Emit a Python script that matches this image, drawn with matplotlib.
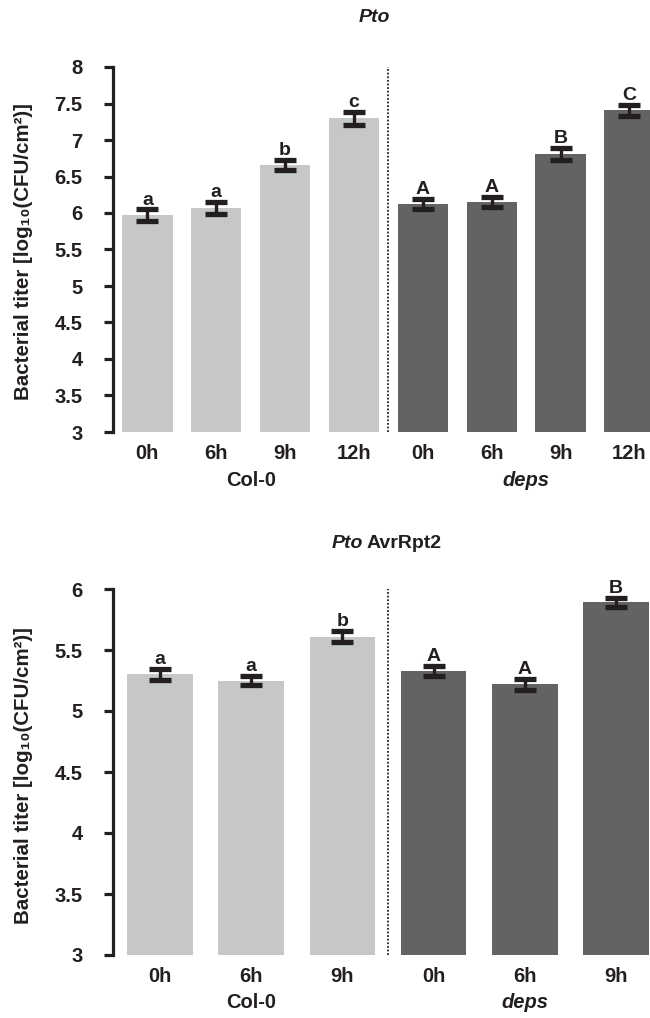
import matplotlib
matplotlib.use("Agg")
import matplotlib.pyplot as plt
import numpy as np

plt.rcParams['font.family'] = ['Liberation Sans', 'DejaVu Sans']
plt.rcParams['font.weight'] = 'bold'

# ---------------- data ----------------
top_times = ["0h", "6h", "9h", "12h", "0h", "6h", "9h", "12h"]
top_values = [5.97, 6.07, 6.66, 7.30, 6.12, 6.15, 6.81, 7.41]
top_errors = [0.08, 0.085, 0.07, 0.09, 0.07, 0.07, 0.085, 0.075]
top_letters = ["a", "a", "b", "c", "A", "A", "B", "C"]
top_groups = ["Col-0", "Col-0", "Col-0", "Col-0", "deps", "deps", "deps", "deps"]

bot_times = ["0h", "6h", "9h", "0h", "6h", "9h"]
bot_values = [5.30, 5.25, 5.61, 5.33, 5.22, 5.89]
bot_errors = [0.045, 0.04, 0.045, 0.04, 0.045, 0.04]
bot_letters = ["a", "a", "b", "A", "A", "B"]
bot_groups = ["Col-0", "Col-0", "Col-0", "deps", "deps", "deps"]

group_colors = {"Col-0": "#c6c7c9", "deps": "#636365"}
ink = "#231f20"

W, H = 650, 1018
fig = plt.figure(figsize=(W / 100, H / 100), dpi=100)


def fx(px):
    return px / W


def fy(py):
    return 1 - py / H


def panel(rect, times, values, errors, letters, groups, ylim, yticks,
          xlim, width, sep, group_label_y):
    ax = fig.add_axes(rect)
    x = np.arange(len(values))
    colors = [group_colors[g] for g in groups]
    ax.bar(x, np.array(values) - ylim[0], bottom=ylim[0], width=width,
           color=colors, edgecolor='none', zorder=2)
    ax.errorbar(x, values, yerr=errors, fmt='none', ecolor=ink,
                elinewidth=2.4, capsize=7.9, capthick=3.8, zorder=3)
    for xi, v, e, l in zip(x, values, errors, letters):
        ax.annotate(l, (xi, v + e), xytext=(0, 0.5), textcoords='offset points',
                    ha='center', va='bottom', fontsize=14, fontweight='bold',
                    color=ink)
    ax.axvline(sep, color=ink, linestyle=(0, (1, 1)), linewidth=1.3, zorder=1)
    ax.set_ylim(*ylim)
    ax.set_xlim(*xlim)
    ax.set_yticks(yticks)
    ax.set_yticklabels([('%g' % t) for t in yticks])
    ax.set_xticks(x)
    ax.set_xticklabels(times)
    for s in ['top', 'right', 'bottom']:
        ax.spines[s].set_visible(False)
    ax.spines['left'].set_linewidth(2.3)
    ax.spines['left'].set_color(ink)
    ax.tick_params(axis='y', length=6.5, width=2.3, color=ink, pad=15.5,
                   labelsize=14.5, labelcolor=ink)
    ax.tick_params(axis='x', length=0, pad=9, labelsize=14.5, labelcolor=ink)
    for lab in ax.get_xticklabels() + ax.get_yticklabels():
        lab.set_fontweight('bold')
    tr = matplotlib.transforms.blended_transform_factory(ax.transData,
                                                         fig.transFigure)
    for g, style in [("Col-0", 'normal'), ("deps", 'italic')]:
        idx = [i for i, gg in enumerate(groups) if gg == g]
        cx = np.mean(idx)
        ax.text(cx, fy(group_label_y), g, transform=tr, ha='center',
                va='center', fontsize=14.5, fontweight='bold', fontstyle=style,
                color=ink)
    return ax


ax1 = panel([fx(113), fy(432), fx(650 - 113), fy(67) - fy(432)],
            top_times, top_values, top_errors, top_letters, top_groups,
            (3, 8), np.arange(3, 8.01, 0.5), (-0.5, 7.30), 0.73, 3.5, 481)

ax2 = panel([fx(113), fy(955), fx(650 - 113), fy(589) - fy(955)],
            bot_times, bot_values, bot_errors, bot_letters, bot_groups,
            (3, 6), np.arange(3, 6.01, 0.5), (-0.515, 5.373), 0.72, 2.5, 1003)

ylabel = "Bacterial titer [log\u2081\u2080(CFU/cm\u00b2)]"
fig.text(fx(24), fy(252), ylabel, rotation=90, ha='center', va='center',
         fontsize=14.8, fontweight='bold', color=ink)
fig.text(fx(24), fy(776), ylabel, rotation=90, ha='center', va='center',
         fontsize=14.8, fontweight='bold', color=ink)

fig.text(fx(374), fy(18), "Pto", ha='center', va='center', fontsize=14,
         fontweight='bold', fontstyle='italic', color=ink)
fig.text(fx(363), fy(543), "Pto", ha='right', va='center', fontsize=14,
         fontweight='bold', fontstyle='italic', color=ink)
fig.text(fx(367), fy(543), "AvrRpt2", ha='left', va='center', fontsize=14,
         fontweight='bold', color=ink)

fig.savefig("out.png", dpi=100)
